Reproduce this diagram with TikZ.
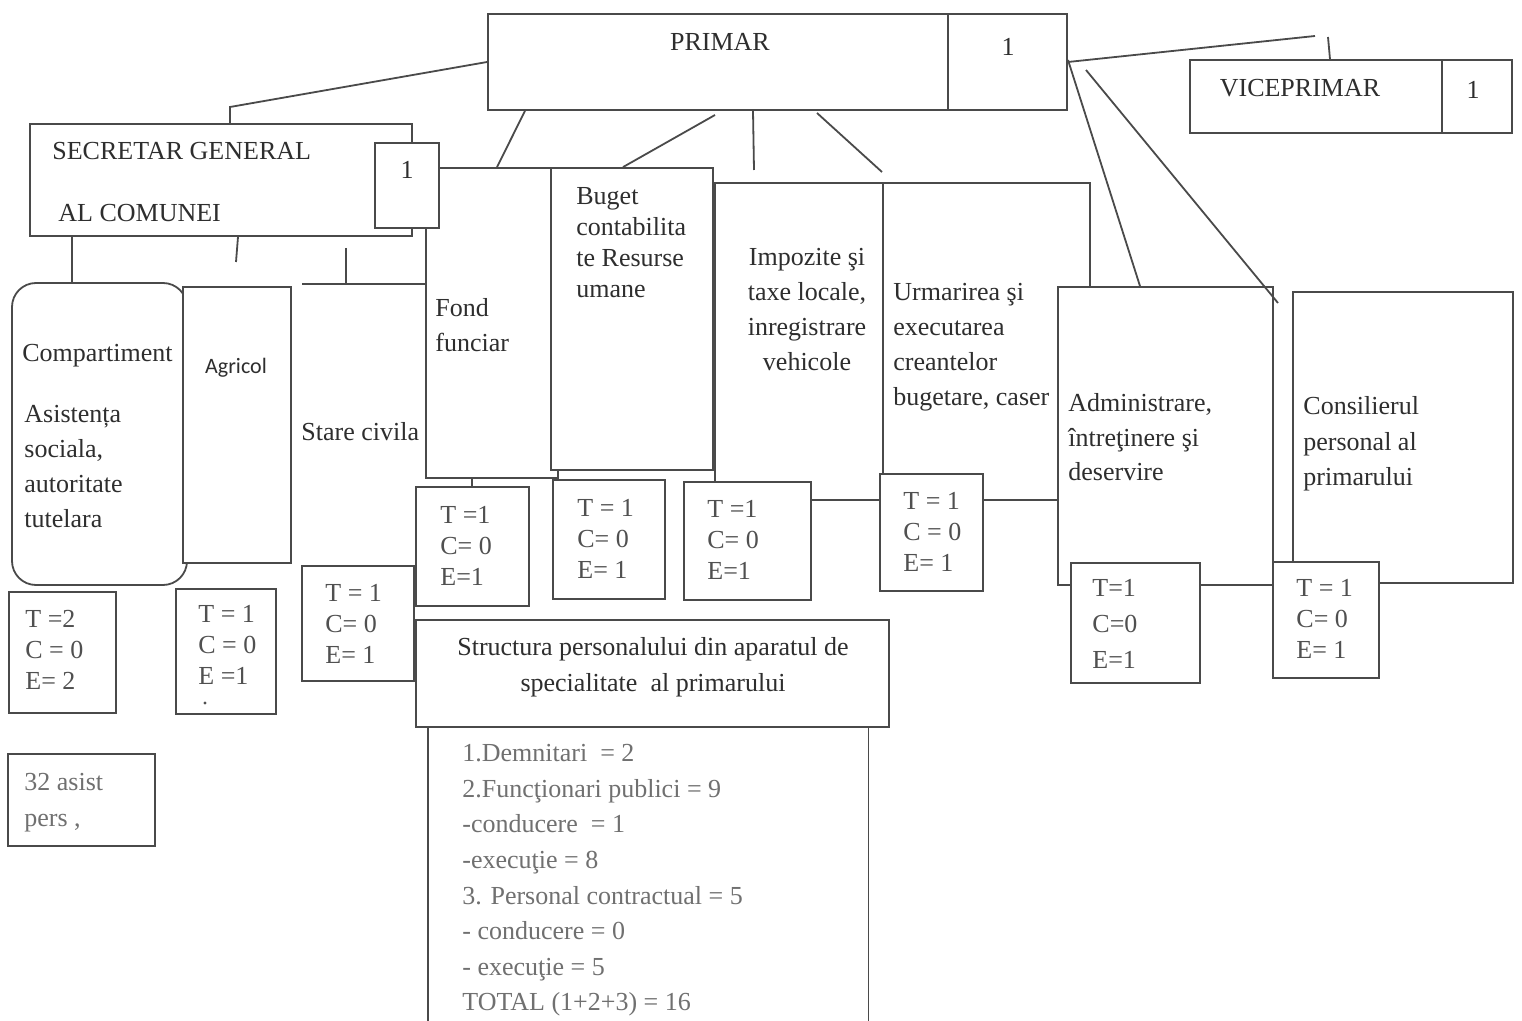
\documentclass[tikz,border=0pt]{standalone}
\usepackage{fontspec}
\setmainfont{Liberation Serif}
\newfontfamily\agrfont{Carlito}
\usetikzlibrary{fit,calc}
\definecolor{ln}{HTML}{4A4A4A}
\definecolor{tx}{HTML}{2E2E2E}
\definecolor{txb}{HTML}{505050}
\definecolor{txc}{HTML}{707070}
\begin{document}
\begin{tikzpicture}[x=0.5pt,y=-0.5pt,
  box/.style={draw=ln, fill=white, inner sep=0pt, line width=0.9pt},
  conn/.style={draw=ln, line width=0.9pt},
  lbl/.style={text=tx, inner sep=0pt, font=\fontsize{13}{17.5}\selectfont, align=left, anchor=north west},
  tce/.style={text=txb, inner sep=0pt, font=\fontsize{13}{15.5}\selectfont, align=left, anchor=north west},
  ctr/.style={text=tx, inner sep=0pt, font=\fontsize{13}{17.5}\selectfont, align=center}
]
\useasboundingbox (0,0) rectangle (1522,1021);
\fill[white] (0,0) rectangle (1522,1021);

% department boxes (back layer)
\node[box, fit={(426,168)(558,478)}] (fond) {};
\node[box, fit={(715,183)(883,500)}] (impoz) {};
\node[box, fit={(883,183)(1090,500)}] (urmar) {};
\node[box, fit={(551,168)(713,470)}] (buget) {};
\node[lbl] (turmar) at (893,283) {Urmarirea şi\\executarea\\creantelor\\bugetare, caser};
\node[box, fit={(1058,287)(1273,585)}] (admin) {};
\node[box, fit={(1293,292)(1513,583)}] (consil) {};

% top boxes
\node[box, fit={(488,14)(948,110)}] (primar) {};
\node[box, fit={(948,14)(1067,110)}] (primar1) {};
\node[box, fit={(1190,60)(1442,133)}] (vice) {};
\node[box, fit={(1442,60)(1512,133)}] (vice1) {};
\node[box, fit={(30,124)(412,236)}] (secr) {};
\node[box, fit={(375,143)(439,228)}] (secr1) {};

% left boxes
\node[box, rounded corners=12pt, fit={(12,283)(187,585)}] (comp) {};
\node[box, fit={(183,287)(291,563)}] (agric) {};

% T/C/E boxes
\node[box, fit={(9,592)(116,713)}] (compT) {};
\node[box, fit={(176,589)(276,714)}] (agricT) {};
\node[box, fit={(302,566)(414,681)}] (stareT) {};
\node[box, fit={(416,487)(529,606)}] (fondT) {};
\node[box, fit={(553,480)(665,599)}] (bugetT) {};
\node[box, fit={(684,482)(811,600)}] (impozT) {};
\node[box, fit={(880,474)(983,591)}] (urmarT) {};
\node[box, fit={(1071,563)(1200,683)}] (adminT) {};
\node[box, fit={(1273,562)(1379,678)}] (consilT) {};

% structure boxes
\node[box, fit={(416,620)(889,727)}] (struct) {};
\node[inner sep=0pt, fit={(428,727)(868,1021)}] (liste) {};
\draw[conn] (liste.south west) -- (liste.north west) -- (liste.north east) -- (liste.south east);
\node[box, fit={(8,754)(155,846)}] (asist) {};

% texts
\node[ctr] (tprimar) at (720,42) {PRIMAR};
\node[ctr] (tprimar1) at (1008,47) {1};
\node[ctr] (tvice) at (1300,88) {VICEPRIMAR};
\node[ctr] (tvice1) at (1473,90) {1};
\node[lbl] (tsecr) at (52,142) {SECRETAR GENERAL};
\node[lbl] (tsecrb) at (58,204) {AL COMUNEI};
\node[ctr] (tsecr1) at (407,170) {1};
\node[lbl] (tcomp) at (22,344) {Compartiment};
\node[lbl] (tcompb) at (24,405) {Asistența\\sociala,\\autoritate\\tutelara};
\node[text=tx, inner sep=0pt, font=\agrfont\fontsize{11}{13}\selectfont] (tagric) at (236,368) {Agricol};
\node[lbl] (tstare) at (301,422) {Stare civila};
\node[lbl] (tfond) at (435,298) {Fond\\funciar};
\node[tce, text=tx] (tbuget) at (576,187) {Buget\\contabilita\\te Resurse\\umane};
\node[ctr, anchor=north] (timpoz) at (807,248) {Impozite şi\\taxe locale,\\inregistrare\\vehicole};
\node[lbl, font=\fontsize{13}{17.3}\selectfont] (tadmin) at (1068,393) {Administrare,\\întreţinere şi\\deservire};
\node[lbl, font=\fontsize{13}{17.8}\selectfont] (tconsil) at (1303,396) {Consilierul\\personal al\\primarului};

\node[tce] (tcompT) at (25,610) {T =2\\C = 0\\E= 2};
\node[tce] (tagricT) at (198,605) {T = 1\\C = 0\\E =1};
\fill[txb] (205,703) circle (1.6) coordinate (tdot);
\node[tce] (tstareT) at (325,584) {T = 1\\C= 0\\E= 1};
\node[tce] (tfondT) at (440,506) {T =1\\C= 0\\E=1};
\node[tce] (tbugetT) at (577,499) {T = 1\\C= 0\\E= 1};
\node[tce] (timpozT) at (707,500) {T =1\\C= 0\\E=1};
\node[tce] (turmarT) at (903,492) {T = 1\\C = 0\\E= 1};
\node[tce, font=\fontsize{13}{18}\selectfont] (tadminT) at (1092,579) {T=1\\C=0\\E=1};
\node[tce] (tconsilT) at (1296,579) {T = 1\\C= 0\\E= 1};

\node[ctr, anchor=north, font=\fontsize{13}{18}\selectfont] (tstruct) at (653,637) {Structura personalului din aparatul de\\specialitate\ \ al primarului};
\node[lbl, text=txc, font=\fontsize{13}{17.8}\selectfont] (tliste) at (462,744) {1.Demnitari\ \ = 2\\2.Funcţionari publici = 9\\-conducere\ \ = 1\\-execuţie = 8\\3. Personal contractual = 5\\- conducere = 0\\- execuţie = 5\\TOTAL (1+2+3) = 16};
\node[lbl, text=txc, font=\fontsize{13}{18}\selectfont] (tasist) at (24,773) {32 asist\\pers ,};

% connectors
\draw[conn] (primar.west) -- (230,107) -- (230,0 |- secr.north);
\draw[conn] (525,0 |- primar.south) -- (497,0 |- fond.north);
\draw[conn] (715,115) -- (623,0 |- buget.north);
\draw[conn] (753,0 |- primar.south) -- (754,170);
\draw[conn] (817,113) -- (882,172);
\draw[conn] (primar1.east) -- (1315,36);
\draw[conn] (1328,37) -- (1330,0 |- vice.north);
\draw[conn] (1068,60) -- (1140,0 |- admin.north);
\draw[conn] (1086,70) -- (1278,303);
\draw[conn] (72,0 |- secr.south) -- (72,0 |- comp.north);
\draw[conn] (238,0 |- secr.south) -- (236,262);
\draw[conn] (346,248) -- (346,284);
\draw[conn] (302,284) -- (fond.west |- 0,284);
\draw[conn] (472,0 |- fond.south) -- (472,0 |- fondT.north);
\draw[conn] (stareT.east |- 0,681) -- (struct.west |- 0,681);
\end{tikzpicture}
\end{document}
